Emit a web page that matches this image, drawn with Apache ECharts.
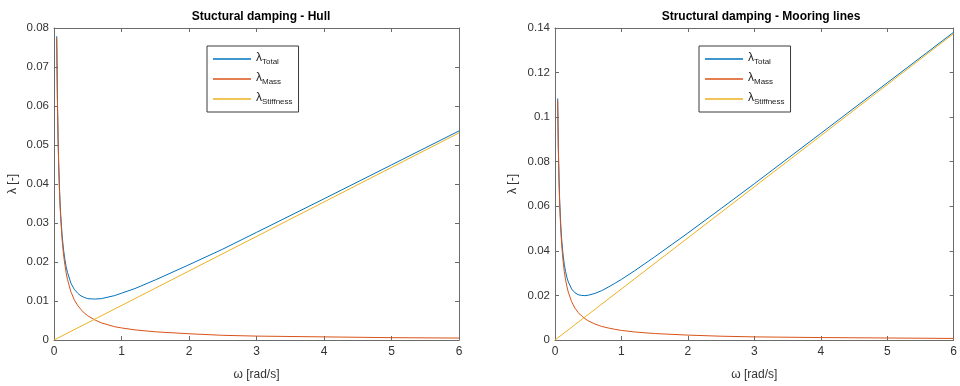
<!DOCTYPE html>
<html><head><meta charset="utf-8">
<script src="https://cdn.jsdelivr.net/npm/echarts@6/dist/echarts.min.js"></script>
<style>html,body{margin:0;padding:0;background:#fff}#c{width:960px;height:386px}</style>
</head><body><div id="c"></div>
<script>
// omega sample points [rad/s]
const omega = [0.04,0.05,0.06,0.07,0.08,0.09,0.1,0.12,0.14,0.16,0.18,0.2,0.25,0.3,0.35,0.4,0.45,0.5,0.6,0.7,0.8,0.9,1,1.2,1.5,2,2.5,3,4,5,6];
// Hull panel
const hullMass  = [0.0775,0.062,0.0517,0.0443,0.0388,0.0344,0.031,0.0258,0.0221,0.0194,0.0172,0.0155,0.0124,0.0103,0.0089,0.0078,0.0069,0.0062,0.0052,0.0044,0.0039,0.0034,0.0031,0.0026,0.0021,0.0016,0.0012,0.0010,0.0008,0.0006,0.0005];
const hullTotal = [0.0779,0.0624,0.0522,0.0449,0.0395,0.0352,0.0319,0.0269,0.0233,0.0208,0.0188,0.0173,0.0146,0.0130,0.0120,0.0113,0.0109,0.0106,0.0105,0.0106,0.0110,0.0114,0.0120,0.0132,0.0154,0.0193,0.0233,0.0276,0.0362,0.0449,0.0536];
const hullStiffOmega = [0, 6];
const hullStiff = [0, 0.0531];
// Mooring lines panel
const moorMass  = [0.1075,0.086,0.0717,0.0614,0.0538,0.0478,0.043,0.0358,0.0307,0.0269,0.0239,0.0215,0.0172,0.0143,0.0123,0.0108,0.0096,0.0086,0.0072,0.0061,0.0054,0.0048,0.0043,0.0036,0.0029,0.0022,0.0017,0.0014,0.0011,0.0009,0.0007];
const moorTotal = [0.1084,0.0872,0.0731,0.0630,0.0556,0.0499,0.0453,0.0386,0.0339,0.0306,0.0280,0.0261,0.0229,0.0212,0.0203,0.0200,0.0199,0.0201,0.0209,0.0221,0.0237,0.0254,0.0272,0.0311,0.0373,0.0480,0.0590,0.0701,0.0927,0.1154,0.1381];
const moorStiffOmega = [0, 6];
const moorStiff = [0, 0.1375];

const titles = ['Stuctural damping - Hull', 'Structural damping - Mooring lines'];
const xTicks = [0,1,2,3,4,5,6];
const legendNames = ['Total','Mass','Stiffness'];
const colors = ['#0072BD','#D95319','#EDB120'];

const pair = (xs, ys) => xs.map((x,i)=>[x, ys[i]]);
const font = 'Liberation Sans, Arial, Helvetica, sans-serif';
const axisCol = '#6b6b6b';
const txtCol = '#333';
const fmt = v => String(+v.toFixed(3));

const grids = [
  {left:54, right:501, top:28, bottom:39},
  {left:555, right:3, top:28, bottom:39}
];
const yMax = [0.08, 0.14], yInt = [0.01, 0.02];

const xAxes = [], yAxes = [];
for (let g=0; g<2; g++) {
  xAxes.push({type:'value', gridIndex:g, min:0, max:6, interval:1, position:'bottom',
    name:'\u03c9 [rad/s]', nameLocation:'middle', nameGap:29,
    nameTextStyle:{fontFamily:font, fontSize:12, color:txtCol},
    axisLine:{show:true, onZero:false, lineStyle:{color:axisCol, width:1}},
    axisTick:{show:true, inside:true, length:4, lineStyle:{color:axisCol}},
    axisLabel:{fontFamily:font, fontSize:12, color:txtCol, margin:6},
    splitLine:{show:false}});
  xAxes.push({type:'value', gridIndex:g, min:0, max:6, interval:1, position:'top',
    axisLine:{show:true, onZero:false, lineStyle:{color:axisCol, width:1}},
    axisTick:{show:true, inside:true, length:4, lineStyle:{color:axisCol}},
    axisLabel:{show:false}, splitLine:{show:false}});
  yAxes.push({type:'value', gridIndex:g, min:0, max:yMax[g], interval:yInt[g], position:'left',
    name:'\u03bb [-]', nameLocation:'middle', nameGap:g===0?35:36,
    nameTextStyle:{fontFamily:font, fontSize:12, color:txtCol},
    axisLine:{show:true, onZero:false, lineStyle:{color:axisCol, width:1}},
    axisTick:{show:true, inside:true, length:4, lineStyle:{color:axisCol}},
    axisLabel:{fontFamily:font, fontSize:11.5, color:txtCol, margin:5, formatter:fmt},
    splitLine:{show:false}});
  yAxes.push({type:'value', gridIndex:g, min:0, max:yMax[g], interval:yInt[g], position:'right',
    axisLine:{show:true, onZero:false, lineStyle:{color:axisCol, width:1}},
    axisTick:{show:true, inside:true, length:4, lineStyle:{color:axisCol}},
    axisLabel:{show:false}, splitLine:{show:false}});
}

function mk(name, g, data, color) {
  return {type:'line', name:name, xAxisIndex:g*2, yAxisIndex:g*2, data:data,
    showSymbol:false, symbol:'none', smooth:false,
    lineStyle:{width:1, color:color}, itemStyle:{color:color}, animation:false, silent:true};
}
const series = [
  mk('Total',0,pair(omega,hullTotal),colors[0]),
  mk('Mass',0,pair(omega,hullMass),colors[1]),
  mk('Stiffness',0,pair(hullStiffOmega,hullStiff),colors[2]),
  mk('Total',1,pair(omega,moorTotal),colors[0]),
  mk('Mass',1,pair(omega,moorMass),colors[1]),
  mk('Stiffness',1,pair(moorStiffOmega,moorStiff),colors[2])
];

function legend(left) {
  return {left:left, top:46, orient:'vertical', data:legendNames, icon:'rect',
    itemWidth:38, itemHeight:1.5, itemGap:6, padding:[6,6,6,6],
    borderColor:'#3a3a3a', borderWidth:1, backgroundColor:'#fff', selectedMode:false,
    formatter: n => '{l|\u03bb}{s|' + n + '}',
    textStyle:{fontFamily:font, color:'#222', rich:{
      l:{fontSize:12, fontFamily:font, color:'#222', padding:[0,0,2,0]},
      s:{fontSize:8, fontFamily:font, color:'#222', padding:[6,0,0,0]}
    }}};
}

const chart = echarts.init(document.getElementById('c'), null, {renderer:'canvas'});
chart.setOption({
  animation:false,
  title:[
    {text:titles[0], left:256, top:6, textAlign:'center', textStyle:{fontFamily:font, fontSize:12, fontWeight:'bold', color:'#000'}},
    {text:titles[1], left:756, top:6, textAlign:'center', textStyle:{fontFamily:font, fontSize:12, fontWeight:'bold', color:'#000'}}
  ],
  grid:grids, xAxis:xAxes, yAxis:yAxes,
  legend:[legend(207), legend(699)],
  series:series
});
</script></body></html>
